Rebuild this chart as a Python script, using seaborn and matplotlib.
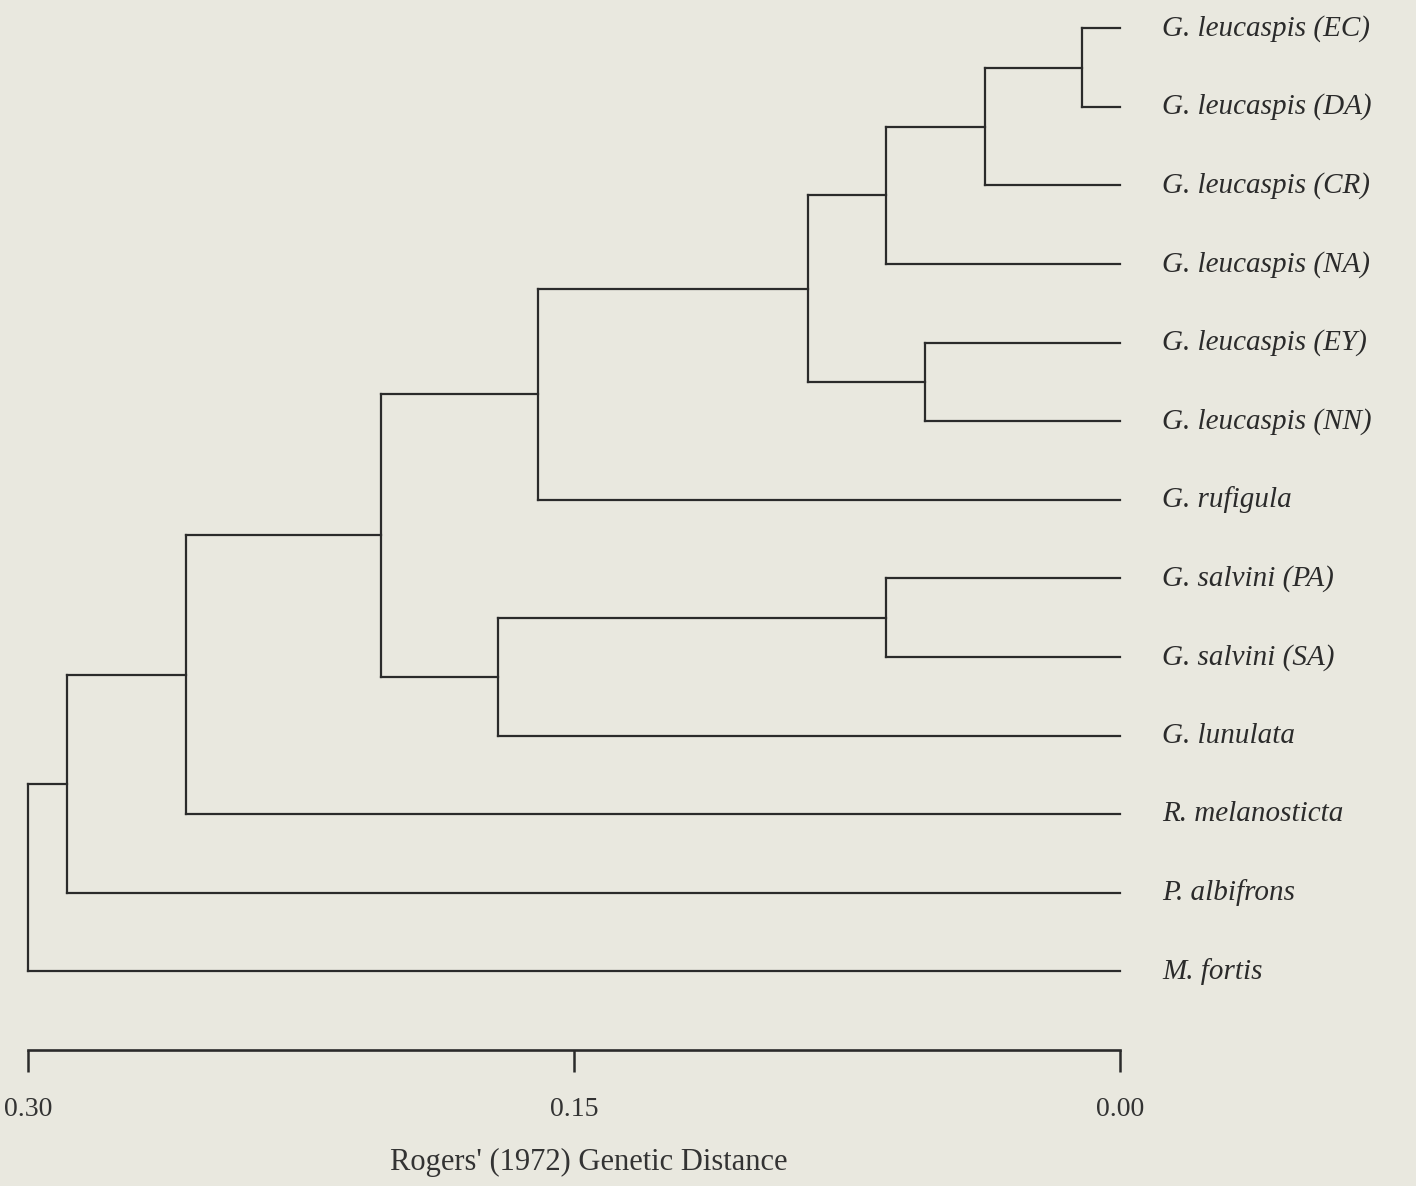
import numpy as np
import pandas as pd
import matplotlib
matplotlib.use("Agg")
import matplotlib.pyplot as plt
import seaborn as sns

# Taxa, top to bottom
leaves = [
    "G. leucaspis (EC)",
    "G. leucaspis (DA)",
    "G. leucaspis (CR)",
    "G. leucaspis (NA)",
    "G. leucaspis (EY)",
    "G. leucaspis (NN)",
    "G. rufigula",
    "G. salvini (PA)",
    "G. salvini (SA)",
    "G. lunulata",
    "R. melanosticta",
    "P. albifrons",
    "M. fortis",
]

# merges: children (index into leaves, new clusters numbered after them) and join distance
merge_left = [0, 13, 14, 4, 15, 17, 7, 19, 18, 21, 22, 23]
merge_right = [1, 2, 3, 5, 16, 6, 8, 9, 20, 10, 11, 12]
merge_dist = [0.0104, 0.0371, 0.0643, 0.0536, 0.0857, 0.1599,
              0.0643, 0.1709, 0.2030, 0.2566, 0.2893, 0.300]

tick_vals = [0.30, 0.15, 0.00]
tick_labels = ["0.30", "0.15", "0.00"]
xlabel = "Rogers' (1972) Genetic Distance"

BG = "#e9e8df"
INK = "#2b2b2b"

# node positions
node_x = [0.0] * len(leaves)
node_y = [float(i) for i in range(len(leaves))]
rows = []
seg = 0
for a, b, d in zip(merge_left, merge_right, merge_dist):
    for c in (a, b):
        rows.append({"x": node_x[c], "y": node_y[c], "seg": seg})
        rows.append({"x": d, "y": node_y[c], "seg": seg})
        seg += 1
    rows.append({"x": d, "y": node_y[a], "seg": seg})
    rows.append({"x": d, "y": node_y[b], "seg": seg})
    seg += 1
    node_x.append(d)
    node_y.append((node_y[a] + node_y[b]) / 2)
segs = pd.DataFrame(rows)

sns.set_style("white")
plt.rcParams["font.family"] = ["Liberation Serif", "DejaVu Serif"]

fig = plt.figure(figsize=(14.16, 11.86), dpi=100, facecolor=BG)
ax = fig.add_axes([28 / 1416, 136 / 1186, 1092 / 1416, 1050 / 1186])
ax.set_facecolor(BG)

sns.lineplot(data=segs, x="x", y="y", units="seg", estimator=None, sort=False,
             color=INK, linewidth=1.6, ax=ax, legend=False)
for ln in ax.lines:
    ln.set_clip_on(False)
    ln.set_solid_capstyle("projecting")

ax.set_xlim(0.30, 0.00)
ax.set_ylim(13.0, -0.36)

for i, name in enumerate(leaves):
    ax.text(-0.0115, i, name, ha="left", va="center", fontsize=21,
            style="italic", color=INK, clip_on=False)

for s in ["top", "left", "right"]:
    ax.spines[s].set_visible(False)
ax.spines["bottom"].set_color(INK)
ax.spines["bottom"].set_linewidth(1.9)
ax.spines["bottom"].set_capstyle("projecting")
ax.set_yticks([])
ax.set_xticks(tick_vals)
ax.set_xticklabels(tick_labels, fontsize=20, color="#333333")
ax.tick_params(axis="x", bottom=True, direction="out", length=16, width=1.8,
               color=INK, pad=18)
ax.set_xlabel(xlabel, fontsize=22, color="#333333")
ax.xaxis.set_label_coords(561 / 1092, -98 / 1050)
ax.set_ylabel("")

fig.savefig("out.png", dpi=100, facecolor=BG)
